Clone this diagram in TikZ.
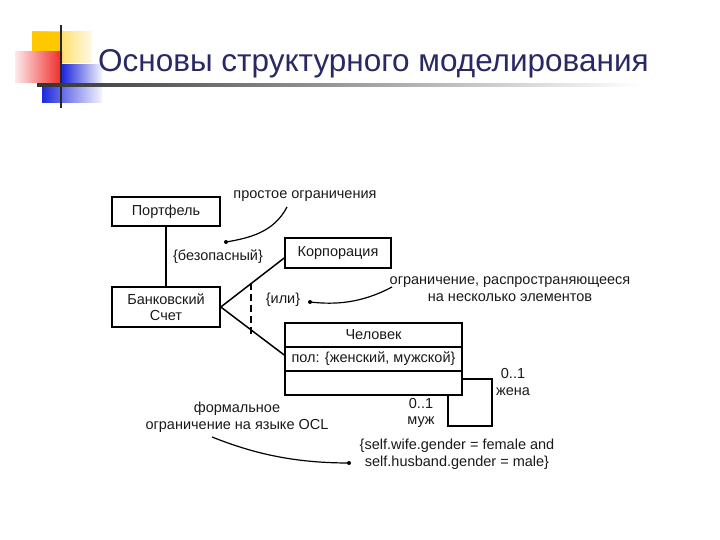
\documentclass[tikz,border=0pt]{standalone}
\usepackage{fontspec}
\setmainfont{Liberation Sans}
\usetikzlibrary{calc}
\definecolor{titleblue}{RGB}{40,40,100}
\definecolor{logoyellow}{RGB}{255,200,0}
\definecolor{logored}{RGB}{240,40,40}
\definecolor{logoblue}{RGB}{30,40,220}
\begin{document}
\begin{tikzpicture}[x=1pt,y=-1pt,
  diafont/.style={font=\fontsize{14.5}{16.5}\selectfont},
  umlbox/.style={draw, line width=1.6pt, inner sep=0pt, diafont, text=black!90},
  lbl/.style={diafont, text=black!90, inner sep=1pt},
  link/.style={line width=1.5pt},
  note/.style={line width=1.2pt},
  dotmark/.style={circle, fill=black, inner sep=0pt, minimum size=4pt}]
\useasboundingbox (0,0) rectangle (720,540);
% logo
\shade[left color=logoyellow, right color=logoyellow!10] (32,32) rectangle (92,63);
\fill[logoyellow] (32,32) rectangle (61,63);
\shade[left color=logored!10, right color=logored] (15,52) rectangle (62,83);
\shade[left color=logoblue, right color=logoblue!5] (62,65) rectangle (102,85);
\shade[left color=logoblue, right color=logoblue!5] (42,85) rectangle (102,103);
\draw[line width=2.2pt, black!85] (61,25) -- (61,108);
\shade[left color=black!80, right color=white] (37,84) rectangle (640,87);
% title
\node[anchor=west, text=titleblue, font=\fontsize{31.5}{36}\selectfont, inner sep=0pt] (title) at (98,64) {Основы структурного моделирования};
% diagram boxes
\node[umlbox, minimum width=108pt, minimum height=29pt] (port) at (166,211.5) {Портфель};
\node[umlbox, minimum width=108pt, minimum height=40pt, align=center] (bank) at (166,307) {Банковский\\Счет};
\node[umlbox, minimum width=106pt, minimum height=30pt] (corp) at (338,253) {Корпорация};
\node[umlbox, minimum width=177pt, minimum height=24pt] (pname) at (373.5,335) {Человек};
\node[umlbox, minimum width=177pt, minimum height=24pt] (pattr) at (373.5,359) {пол: \{женский, мужской\}};
\node[umlbox, minimum width=177pt, minimum height=24pt] (pop) at (373.5,383) {};
% labels
\node[lbl] (simple) at (305,196) {простое ограничения};
\node[lbl] (safe) at (218,257) {\{безопасный\}};
\node[lbl] (orc) at (283,300) {\{или\}};
\node[lbl, align=center] (multi) at (510,289) {ограничение, распространяющееся\\на несколько элементов};
\node[lbl, align=center] (formal) at (237,417) {формальное\\ограничение на языке OCL};
\node[lbl, align=center] (ocl) at (457,454) {\{self.wife.gender = female and\\self.husband.gender = male\}};
\node[lbl, align=center] (wife) at (513,382) {0..1\\жена};
\node[lbl, align=center] (husb) at (421,413) {0..1\\муж};
% associations
\draw[link] (port.south) -- (bank.north);
\draw[link] (bank.east) -- ([yshift=-5pt]corp.west);
\draw[link] (bank.east) -- ([yshift=4pt]pattr.west);
\coordinate (dtop) at (251,283);
\coordinate (dbot) at (251,334);
\draw[link, dash pattern=on 7pt off 4pt] (dtop) -- (dbot);
\draw[link] ([yshift=4pt]pop.east) -- ++(29,0) -- ++(0,47) -- ++(-44,0) -- ([xshift=-15pt]pop.south east);
% note connectors
\coordinate (n1s) at (287,207);
\coordinate (n1e) at (226,242);
\draw[note] (n1s) .. controls (274,232) and (250,238) .. (n1e);
\node[dotmark] at (n1e) {};
\coordinate (n2s) at (392,287);
\coordinate (n2e) at (310,302);
\draw[note] (n2s) .. controls (362,303) and (336,305) .. (n2e);
\node[dotmark] at (n2e) {};
\coordinate (n3s) at (212,437);
\coordinate (n3e) at (349,463);
\draw[note] (n3s) .. controls (250,452) and (290,463) .. (n3e);
\node[dotmark] at (n3e) {};
\end{tikzpicture}
\end{document}
